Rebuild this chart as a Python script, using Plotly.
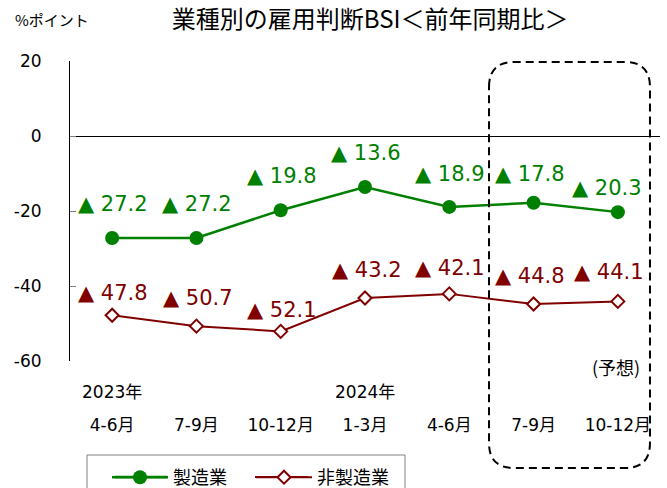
import plotly.graph_objects as go

# Quarterly employment judgment BSI by industry (year-on-year)
quarters = ["4-6月", "7-9月", "10-12月", "1-3月", "4-6月", "7-9月", "10-12月"]
year_labels = ["2023年", "", "", "2024年", "", "", ""]
manufacturing = [-27.2, -27.2, -19.8, -13.6, -18.9, -17.8, -20.3]
non_manufacturing = [-47.8, -50.7, -52.1, -43.2, -42.1, -44.8, -44.1]
series_names = ["製造業", "非製造業"]
y_ticks = [20, 0, -20, -40, -60]
y_tick_labels = ["20", "0", "-20", "-40", "-60"]

GREEN = "#008000"
RED = "#800000"
NUM_FONT = "DejaVu Sans, Noto Sans CJK JP"
JP_FONT = "Noto Sans CJK JP, DejaVu Sans"

xs = list(range(len(quarters)))

fig = go.Figure()
fig.add_trace(go.Scatter(
    x=xs, y=manufacturing, name=series_names[0], mode="lines+markers",
    line=dict(color=GREEN, width=2.5),
    marker=dict(symbol="circle", size=14, color=GREEN),
))
fig.add_trace(go.Scatter(
    x=xs, y=non_manufacturing, name=series_names[1], mode="lines+markers",
    line=dict(color=RED, width=2),
    marker=dict(symbol="diamond", size=10, color="white",
                line=dict(color=RED, width=2)),
))


def bsi_text(v):
    # negative values are written with a leading ▲
    return ("▲ " if v < 0 else "") + f"{abs(v):.1f}"


# label nudges (px): horizontal, vertical
green_shift = [(1, 34), (1, 34), (1, 34), (1, 34), (1, 33), (-4, 29), (-11, 24)]
red_shift = [(1, 22), (2, 28), (1, 21), (2, 28), (1, 26), (-4, 28), (-9, 29)]

annotations = []
for vals, shifts, color in ((manufacturing, green_shift, GREEN),
                            (non_manufacturing, red_shift, RED)):
    for i, (v, (dx, dy)) in enumerate(zip(vals, shifts)):
        annotations.append(dict(
            x=i, y=v, xref="x", yref="y", text=bsi_text(v), showarrow=False,
            xshift=dx, yshift=dy, font=dict(family=NUM_FONT, size=21, color=color),
        ))

# year markers above the quarter labels
for i, yl in enumerate(year_labels):
    if yl:
        annotations.append(dict(
            x=i, y=-0.103, xref="x", yref="paper", text=yl, showarrow=False,
            yanchor="middle", font=dict(family=NUM_FONT, size=17, color="black"),
        ))

annotations.append(dict(
    x=-0.097, y=1.137, xref="paper", yref="paper", text="%ポイント",
    xanchor="left", yanchor="middle", showarrow=False,
    font=dict(family=JP_FONT, size=15, color="black"),
))
annotations.append(dict(
    x=0.926, y=-0.02, xref="paper", yref="paper", text="(予想)",
    xanchor="center", yanchor="middle", showarrow=False,
    font=dict(family=JP_FONT, size=18, color="black"),
))

# dashed rounded frame around the forecast quarters
xl, xr, yt, yb = 0.7102, 0.983, 0.9967, -0.3567
rx, ry = 0.0424, 0.0833
frame = (f"M {xl},{yt - ry} Q {xl},{yt} {xl + rx},{yt} L {xr - rx},{yt} "
         f"Q {xr},{yt} {xr},{yt - ry} L {xr},{yb + ry} Q {xr},{yb} {xr - rx},{yb} "
         f"L {xl + rx},{yb} Q {xl},{yb} {xl},{yb + ry} Z")

# legend frame and longer legend line samples
leg_y = -0.3867
shapes = [
    dict(type="path", path=frame, xref="paper", yref="paper",
         line=dict(color="black", width=2, dash="8px,5px")),
    dict(type="rect", xref="paper", yref="paper", x0=0.0288, x1=0.5678,
         y0=-0.3133, y1=-0.6, line=dict(color="#808080", width=1)),
    dict(type="line", xref="paper", yref="paper", x0=0.0763, x1=0.1644,
         y0=leg_y, y1=leg_y, line=dict(color=GREEN, width=2.5)),
    dict(type="line", xref="paper", yref="paper", x0=0.3136, x1=0.4034,
         y0=leg_y, y1=leg_y, line=dict(color=RED, width=2)),
]

fig.update_layout(
    width=667, height=488,
    margin=dict(l=70, r=7, t=61, b=127),
    paper_bgcolor="white", plot_bgcolor="white",
    title=dict(text="業種別の雇用判断BSI＜前年同期比＞", x=0.555, xref="container",
               xanchor="center", y=0.959, yref="container", yanchor="middle",
               font=dict(family=JP_FONT, size=24, color="black")),
    xaxis=dict(
        range=[-0.5, len(quarters) - 0.5], tickvals=xs, ticktext=quarters,
        showline=False, showgrid=False, zeroline=False, ticks="",
        ticklabelstandoff=52,
        tickfont=dict(family=NUM_FONT, size=17, color="black"),
    ),
    yaxis=dict(
        range=[-60, 20], tickvals=y_ticks, ticktext=y_tick_labels, showgrid=False,
        showline=True, linecolor="black", linewidth=1,
        zeroline=True, zerolinecolor="black", zerolinewidth=1,
        ticks="inside", ticklen=6, tickcolor="#808080",
        ticklabelstandoff=24,
        tickfont=dict(family=NUM_FONT, size=17, color="black"),
    ),
    legend=dict(
        orientation="h", x=107 / 667, xref="container", xanchor="left",
        y=1 - 459 / 488, yref="container", yanchor="top",
        borderwidth=0, bgcolor="rgba(0,0,0,0)", entrywidth=73, itemwidth=56,
        font=dict(family=JP_FONT, size=18, color="black"),
    ),
    shapes=shapes,
    annotations=annotations,
)

fig.write_html("out.html")
